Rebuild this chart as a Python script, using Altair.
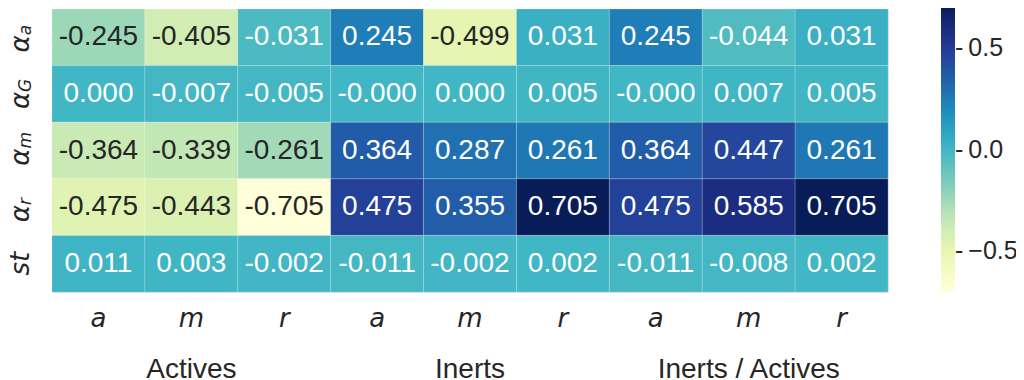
import altair as alt
import numpy as np
import pandas as pd

# ---- data ----
row_keys = ["a_a", "a_G", "a_m", "a_r", "st"]
row_base = ["α", "α", "α", "α", "st"]
row_sub = ["a", "G", "m", "r", ""]

col_keys = ["A_a", "A_m", "A_r", "I_a", "I_m", "I_r", "R_a", "R_m", "R_r"]

vals_alpha_a = [-0.245, -0.405, -0.031, 0.245, -0.499, 0.031, 0.245, -0.044, 0.031]
vals_alpha_G = [0.000, -0.007, -0.005, -0.0, 0.000, 0.005, -0.0, 0.007, 0.005]
vals_alpha_m = [-0.364, -0.339, -0.261, 0.364, 0.287, 0.261, 0.364, 0.447, 0.261]
vals_alpha_r = [-0.475, -0.443, -0.705, 0.475, 0.355, 0.705, 0.475, 0.585, 0.705]
vals_st = [0.011, 0.003, -0.002, -0.011, -0.002, 0.002, -0.011, -0.008, 0.002]

group_names = ["Actives", "Inerts", "Inerts / Actives"]
group_cols = ["A_m", "I_m", "R_m"]

colorbar_ticks = [-0.5, 0.0, 0.5]

# YlGnBu (ColorBrewer 9-class, as used by matplotlib)
ylgnbu = ["#ffffd9", "#edf8b1", "#c7e9b4", "#7fcdbb", "#41b6c4",
          "#1d91c0", "#225ea8", "#253494", "#081d58"]

# ---- tables ----
all_rows = [vals_alpha_a, vals_alpha_G, vals_alpha_m, vals_alpha_r, vals_st]
recs = []
for rk, rv in zip(row_keys, all_rows):
    for ck, v in zip(col_keys, rv):
        recs.append({"row": rk, "col": ck, "value": v, "label": f"{v:.3f}"})
cells = pd.DataFrame(recs)
vmin = min(min(r) for r in all_rows)
vmax = max(max(r) for r in all_rows)
color_domain = np.linspace(vmin, vmax, len(ylgnbu)).tolist()

rows_df = pd.DataFrame({"row": row_keys, "base": row_base, "sub": row_sub})
groups_df = pd.DataFrame({"col": group_cols, "name": group_names})

xs = alt.Scale(domain=col_keys, paddingInner=0, paddingOuter=0)
ys = alt.Scale(domain=row_keys, paddingInner=0, paddingOuter=0)

X = alt.X("col:N", scale=xs, title=None,
          axis=alt.Axis(labelExpr="split(datum.value, '_')[1]", labelAngle=0,
                        domain=False, ticks=False, tickSize=0, labelPadding=13,
                        labelFont="DejaVu Sans", labelFontStyle="italic",
                        labelFontSize=26, labelColor="#262626"))
Y = alt.Y("row:N", scale=ys, axis=None)

heat = alt.Chart(cells).mark_rect(stroke="white", strokeWidth=0.6, strokeOpacity=0.3).encode(
    x=X, y=Y,
    color=alt.Color("value:Q",
                    scale=alt.Scale(type="linear", domain=color_domain, range=ylgnbu,
                                    interpolate="rgb"),
                    legend=alt.Legend(
                        title=None, orient="none", legendX=889, legendY=-2,
                        direction="vertical", gradientLength=285, gradientThickness=14,
                        gradientStrokeWidth=0, padding=0, values=colorbar_ticks,
                        labelOffset=0, labelFont="Liberation Sans", labelFontSize=25,
                        labelColor="#262626",
                        labelExpr="'-\u2009' + (datum.value < 0 ? '\u2212' : '') + format(abs(datum.value), '.1f')")),
)

txt = alt.Chart(cells).mark_text(font="Liberation Sans", fontSize=28, baseline="middle").encode(
    x=alt.X("col:N", scale=xs), y=alt.Y("row:N", scale=ys),
    text="label:N",
    color=alt.condition(alt.datum.value < -0.1, alt.value("#262626"), alt.value("white")),
)

ybase = alt.Chart(rows_df).transform_filter("datum.sub != ''").mark_text(
    font="DejaVu Sans", fontStyle="italic", fontSize=26, angle=270,
    align="right", baseline="alphabetic", dx=2, color="#262626").encode(
    x=alt.value(-23), y=alt.Y("row:N", scale=ys), text="base:N")

ysub = alt.Chart(rows_df).transform_filter("datum.sub != ''").mark_text(
    font="DejaVu Sans", fontStyle="italic", fontSize=17, angle=270,
    align="left", baseline="alphabetic", dx=2, dy=2, color="#262626").encode(
    x=alt.value(-23), y=alt.Y("row:N", scale=ys), text="sub:N")

yst = alt.Chart(rows_df).transform_filter("datum.sub == ''").mark_text(
    font="DejaVu Sans", fontStyle="italic", fontSize=26, angle=270,
    align="center", baseline="alphabetic", color="#262626").encode(
    x=alt.value(-23), y=alt.Y("row:N", scale=ys), text="base:N")

grp = alt.Chart(groups_df).mark_text(
    font="Liberation Sans", fontSize=28, baseline="alphabetic", color="#262626").encode(
    x=alt.X("col:N", scale=xs), y=alt.value(369), text="name:N")

chart = alt.layer(heat, txt, ybase, ysub, yst, grp).properties(
    width=836, height=283,
    padding={"left": 44, "top": 1, "right": 128, "bottom": 86},
    autosize=alt.AutoSizeParams(type="none"),
).configure_view(strokeWidth=0).configure(background="white")

chart.save("out.html", embed_options={"renderer": "svg", "actions": False})
